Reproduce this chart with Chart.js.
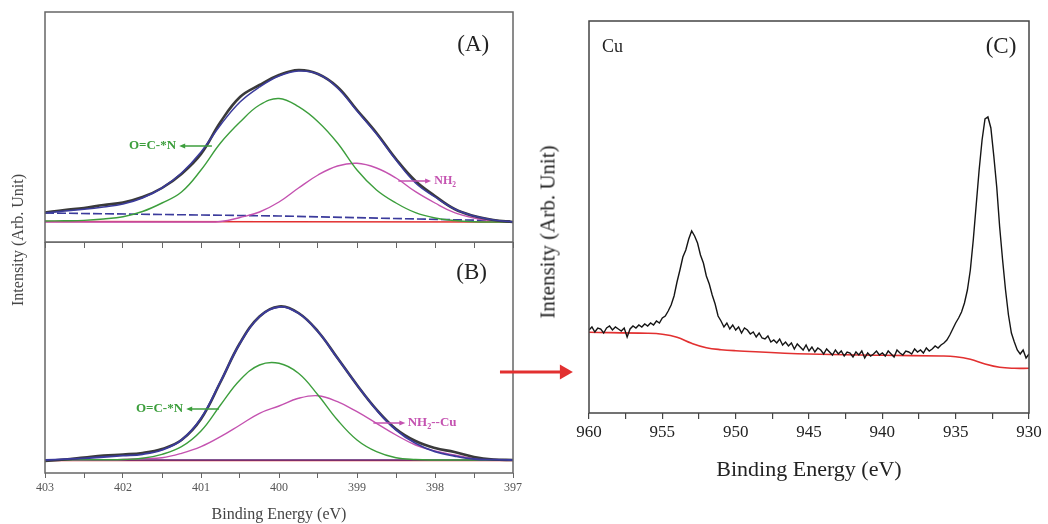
<!DOCTYPE html>
<html>
<head>
<meta charset="utf-8">
<script src="https://cdn.jsdelivr.net/npm/chart.js@4.4.1/dist/chart.umd.min.js"></script>
<style>
  body { margin: 0; background: #fff; }
  #wrap { position: relative; width: 1048px; height: 524px; overflow: hidden; font-family: "Liberation Serif", serif; }
  canvas { position: absolute; }
  .ytitle { position: absolute; transform: translate(-50%, -50%) rotate(-90deg); white-space: nowrap; }
</style>
</head>
<body>
<div id="wrap">
  <canvas id="chartA" width="540" height="248" style="left:0px;top:0px"></canvas>
  <canvas id="chartB" width="540" height="282" style="left:0px;top:242px"></canvas>
  <canvas id="chartC" width="558" height="524" style="left:490px;top:0px"></canvas>
  <div class="ytitle" style="left:18px;top:240px;font-size:16px;color:#444">Intensity (Arb. Unit)</div>
  <div class="ytitle" style="left:548px;top:232px;font-size:21px;color:#222">Intensity (Arb. Unit)</div>
</div>
<script>
// N 1s energies (eV) used by panels A and B
var nEnergy = [403, 402.75, 402.5, 402.25, 402, 401.75, 401.5, 401.25, 401, 400.75, 400.5, 400.25, 400,
               399.75, 399.5, 399.25, 399, 398.75, 398.5, 398.25, 398, 397.75, 397.5, 397.25, 397];

// panel A (before Cu)
var aRaw   = [29.5, 32, 34, 37, 39.5, 45, 54, 68, 88, 120, 145, 157, 167, 172, 168, 155, 132, 109, 83, 61, 46, 33, 26, 22, 20];
var aFit   = [29, 31, 32.7, 35, 38, 44, 54, 69, 90, 117, 140, 155, 166, 171, 168, 154, 131, 108, 82, 59, 45, 33, 26, 22, 20];
var aGreen = [21, 21.2, 21.6, 23, 25.3, 30.5, 39, 50, 72, 99, 120, 137, 143.5, 135.3, 120.3, 99, 72, 52, 39, 29.3, 24, 21.5, 20.3, 20, 20];
var aPink  = [20, 20, 20, 20, 20, 20, 20, 20, 20, 20.5, 24.5, 30, 40, 54, 67, 76, 78.7, 74, 64, 50.3, 39, 29.3, 24, 21, 20];
var aBgEnergy = [403, 400, 397];
var aBg       = [29, 26, 21];
var aBaseEnergy = [403, 397];
var aBase       = [20.5, 20];

// panel B (after Cu)
var bRaw   = [12, 13.5, 15.5, 17.5, 18.5, 20, 24, 33, 54, 91, 130, 156.5, 166.5, 160, 141.5, 115, 88, 63.5, 44, 32, 25, 21, 16, 13.5, 13];
var bFit   = [13, 13.8, 14.7, 16, 17.3, 18.7, 23, 33, 54.7, 91.3, 129.7, 156.3, 166, 159.7, 141.3, 114.7, 88, 63, 43, 29.7, 21.3, 17, 14, 13.3, 13];
var bGreen = [13, 13, 13.2, 13.3, 13.5, 14.7, 18.7, 26.3, 42, 68, 93, 108, 109.7, 99.7, 78, 53, 33, 21.3, 15.3, 13.5, 13, 13, 13, 13, 13];
var bPink  = [13, 13, 13, 13.2, 13.5, 14.5, 15.3, 19.7, 26.3, 36.3, 48, 59.7, 67, 74.7, 77.3, 71.3, 61.3, 49.7, 38, 28, 22, 18, 14.7, 13.5, 13];
var bBaseEnergy = [403, 397];
var bPurple     = [13, 13];
var bRed        = [12.5, 12.5];

// panel C: Cu 2p, sampled every 0.2 eV from 960 down to 930
var cuRaw = [
  83, 86, 81, 85, 84, 80, 85, 87, 83, 86,
  84, 82, 85, 76, 84, 87, 85, 88, 86, 89,
  87, 90, 88, 92, 90, 95, 97, 102, 108, 117,
  131, 143, 156, 163, 174, 182, 177, 170, 158, 150,
  137, 129, 118, 109, 97, 92, 86, 90, 84, 88,
  83, 86, 80, 85, 83, 79, 81, 76, 80, 75,
  74, 77, 71, 73, 70, 74, 68, 71, 67, 70,
  64, 69, 66, 63, 68, 62, 66, 61, 65, 63,
  59, 64, 61, 58, 63, 59, 62, 57, 61, 60,
  56, 61, 58, 62, 55, 60, 57, 59, 62, 58,
  60, 57, 62, 59, 56, 63, 60, 58, 62, 61,
  59, 64, 61, 63, 60, 65, 62, 64, 67, 65,
  68, 70, 73, 78, 84, 90, 95, 101, 110, 123,
  143, 173, 208, 243, 273, 294, 296, 285, 257, 226,
  186, 153, 123, 98, 80, 71, 63, 59, 63, 55,
  59
];
var cuEnergy = cuRaw.map(function (v, i) { return Math.round((960 - i * 0.2) * 10) / 10; });
var cuBgEnergy = [960, 956, 955, 954, 953, 952, 951, 950, 945, 940, 936, 935, 934, 933, 932, 931, 930];
var cuBg       = [80.7, 79.7, 78.7, 75.7, 69.7, 65.3, 63.3, 62.3, 59, 57.7, 57, 56.3, 53.7, 49, 45.7, 44.7, 44.7];

Chart.defaults.font.family = '"Liberation Serif", "Times New Roman", serif';

var GREEN = '#3c9e3c';
var PINK = '#c452b0';
var BLUE = '#3b3b9c';
var RED = '#e23030';

// makes a smooth line dataset out of an x array and a y array
function line(xs, ys, color, width, extra) {
    var ds = {
        data: xs.map(function (x, i) { return { x: x, y: ys[i] }; }),
        borderColor: color,
        borderWidth: width,
        pointRadius: 0,
        fill: false,
        tension: 0.4
    };
    return Object.assign(ds, extra || {});
}

// box around the plot area
var framePlugin = {
    id: 'frame',
    afterDraw: function (chart, args, opts) {
        var a = chart.chartArea, ctx = chart.ctx;
        ctx.save();
        ctx.strokeStyle = opts.color;
        ctx.lineWidth = opts.width;
        ctx.strokeRect(a.left, a.top, a.right - a.left, a.bottom - a.top);
        ctx.restore();
    }
};

function drawHead(ctx, tipX, y, dir, len, half) {
    ctx.beginPath();
    ctx.moveTo(tipX, y);
    ctx.lineTo(tipX - dir * len, y - half);
    ctx.lineTo(tipX - dir * len, y + half);
    ctx.closePath();
    ctx.fill();
}

// labels and arrows placed in data coordinates
var notesPlugin = {
    id: 'notes',
    afterDraw: function (chart, args, opts) {
        var ctx = chart.ctx, xs = chart.scales.x, ys = chart.scales.y;
        (opts.items || []).forEach(function (it) {
            var px = xs.getPixelForValue(it.x), py = ys.getPixelForValue(it.y);
            ctx.save();
            ctx.fillStyle = it.color;
            ctx.strokeStyle = it.color;
            if (it.arrow) {
                // arrow from x (tail) to x2 (tip)
                var tip = xs.getPixelForValue(it.x2);
                var dir = tip > px ? 1 : -1;
                ctx.lineWidth = it.width;
                ctx.beginPath();
                ctx.moveTo(px, py);
                ctx.lineTo(tip - dir * it.head * 0.8, py);
                ctx.stroke();
                drawHead(ctx, tip, py, dir, it.head, it.half);
            } else {
                var weight = it.bold ? 'bold ' : '';
                var parts = it.parts.map(function (p) {
                    var s = p.sub ? it.size * 0.62 : it.size;
                    ctx.font = weight + s + 'px "Liberation Serif"';
                    return { t: p.t, sub: p.sub, font: ctx.font, w: ctx.measureText(p.t).width };
                });
                var total = parts.reduce(function (s, p) { return s + p.w; }, 0);
                var x0 = px;
                if (it.align === 'right') x0 = px - total;
                if (it.align === 'center') x0 = px - total / 2;
                ctx.textBaseline = 'middle';
                ctx.textAlign = 'left';
                parts.forEach(function (p) {
                    ctx.font = p.font;
                    ctx.fillText(p.t, x0, py + (p.sub ? it.size * 0.32 : 0));
                    x0 += p.w;
                });
            }
            ctx.restore();
        });
    }
};

function baseOptions(pad, yMax) {
    return {
        responsive: false,
        animation: false,
        events: [],
        layout: { padding: pad },
        plugins: { legend: { display: false }, tooltip: { enabled: false } },
        scales: {
            x: { type: 'linear', reverse: true, border: { display: false } },
            y: { display: false, min: 0, max: yMax }
        }
    };
}

// ---------- panel A ----------
var optA = baseOptions({ left: 45, right: 27, top: 12, bottom: 0 }, 230);
Object.assign(optA.scales.x, {
    min: 397, max: 403,
    ticks: { display: false, stepSize: 0.5 },
    grid: { drawOnChartArea: false, drawTicks: true, tickLength: 6, color: '#666', lineWidth: 1 },
    afterFit: function (s) { s.height = 6; }
});
optA.plugins.frame = { color: '#666', width: 1.5 };
optA.plugins.notes = { items: [
    { x: 397.51, y: 197, parts: [{ t: '(A)' }], size: 23, color: '#222', align: 'center' },
    { x: 401.32, y: 96, parts: [{ t: 'O=C-*N' }], size: 13, bold: true, color: GREEN, align: 'right' },
    { arrow: true, x: 400.86, x2: 401.28, y: 96, color: GREEN, width: 1.5, head: 6, half: 2.5 },
    { arrow: true, x: 398.47, x2: 398.05, y: 61, color: PINK, width: 1.5, head: 6, half: 2.5 },
    { x: 398.01, y: 61, parts: [{ t: 'NH' }, { t: '2', sub: true }], size: 12, bold: true, color: PINK, align: 'left' }
] };

new Chart(document.getElementById('chartA'), {
    type: 'line',
    data: { datasets: [
        line(nEnergy, aFit, BLUE, 1.5),
        line(nEnergy, aRaw, '#3a3a3a', 2.6),
        line(nEnergy, aGreen, GREEN, 1.4),
        line(nEnergy, aPink, PINK, 1.4),
        line(aBgEnergy, aBg, BLUE, 1.6, { borderDash: [9, 3], tension: 0 }),
        line(aBaseEnergy, aBase, RED, 1.6, { tension: 0 })
    ] },
    options: optA,
    plugins: [framePlugin, notesPlugin]
});

// ---------- panel B ----------
var optB = baseOptions({ left: 45, right: 27, top: 0, bottom: 0 }, 231);
Object.assign(optB.scales.x, {
    min: 397, max: 403,
    ticks: {
        stepSize: 0.5, autoSkip: false, maxRotation: 0, padding: 3,
        color: '#555', font: { size: 12 },
        callback: function (v) { return Number.isInteger(v) ? v : ''; }
    },
    grid: { drawOnChartArea: false, drawTicks: true, tickLength: 5, color: '#666', lineWidth: 1 },
    title: { display: true, text: 'Binding Energy (eV)', color: '#444', font: { size: 16 }, padding: { top: 4, bottom: 0 } },
    afterFit: function (s) { s.height = 51; }
});
optB.plugins.frame = { color: '#666', width: 1.5 };
optB.plugins.notes = { items: [
    { x: 397.53, y: 200, parts: [{ t: '(B)' }], size: 23, color: '#222', align: 'center' },
    { x: 401.23, y: 64, parts: [{ t: 'O=C-*N' }], size: 13, bold: true, color: GREEN, align: 'right' },
    { arrow: true, x: 400.77, x2: 401.19, y: 64, color: GREEN, width: 1.5, head: 6, half: 2.5 },
    { arrow: true, x: 398.79, x2: 398.38, y: 50, color: PINK, width: 1.5, head: 6, half: 2.5 },
    { x: 398.35, y: 50, parts: [{ t: 'NH' }, { t: '2', sub: true }, { t: '--Cu' }], size: 13, bold: true, color: PINK, align: 'left' }
] };

new Chart(document.getElementById('chartB'), {
    type: 'line',
    data: { datasets: [
        line(nEnergy, bFit, BLUE, 1.8),
        line(nEnergy, bRaw, '#3a3a3a', 2.6),
        line(nEnergy, bGreen, GREEN, 1.4),
        line(nEnergy, bPink, PINK, 1.4),
        line(bBaseEnergy, bPurple, '#5c2c7c', 1.6, { tension: 0 }),
        line(bBaseEnergy, bRed, RED, 1.6, { tension: 0 })
    ] },
    options: optB,
    plugins: [framePlugin, notesPlugin]
});

// ---------- panel C ----------
var optC = baseOptions({ left: 99, right: 19, top: 21, bottom: 41 }, 392);
Object.assign(optC.scales.x, {
    min: 930, max: 960,
    ticks: {
        stepSize: 2.5, autoSkip: false, maxRotation: 0, padding: 3,
        color: '#222', font: { size: 17 },
        callback: function (v) { return v % 5 === 0 ? v : ''; }
    },
    grid: { drawOnChartArea: false, drawTicks: true, tickLength: 6, color: '#444', lineWidth: 1.2 },
    title: { display: true, text: 'Binding Energy (eV)', color: '#222', font: { size: 22 }, padding: { top: 4, bottom: 0 } },
    afterFit: function (s) { s.height = 70; }
});
optC.plugins.frame = { color: '#444', width: 1.5 };
optC.plugins.notes = { items: [
    { x: 959.11, y: 366, parts: [{ t: 'Cu' }], size: 18, color: '#222', align: 'left' },
    { x: 931.91, y: 366, parts: [{ t: '(C)' }], size: 23, color: '#222', align: 'center' },
    { arrow: true, x: 966.07, x2: 961.1, y: 41, color: RED, width: 3, head: 13, half: 7.5 }
] };

new Chart(document.getElementById('chartC'), {
    type: 'line',
    data: { datasets: [
        line(cuEnergy, cuRaw, '#151515', 1.4, { tension: 0 }),
        line(cuBgEnergy, cuBg, RED, 1.6)
    ] },
    options: optC,
    plugins: [framePlugin, notesPlugin]
});
</script>
</body>
</html>
